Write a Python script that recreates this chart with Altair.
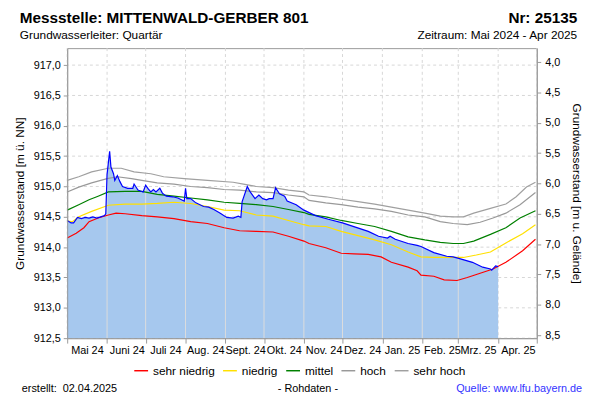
import json
import altair as alt
import numpy as np
import pandas as pd

# ---------------- data ----------------
mess_dates = ["2024-05-01", "2024-05-04", "2024-05-06", "2024-05-09", "2024-05-12", "2024-05-15",
              "2024-05-18", "2024-05-21", "2024-05-24", "2024-05-27", "2024-05-30", "2024-05-31",
              "2024-06-01", "2024-06-03", "2024-06-04", "2024-06-06", "2024-06-07", "2024-06-09",
              "2024-06-11", "2024-06-13", "2024-06-17", "2024-06-21", "2024-06-22", "2024-06-25",
              "2024-06-29", "2024-07-01", "2024-07-03", "2024-07-05", "2024-07-07", "2024-07-09",
              "2024-07-12", "2024-07-14", "2024-07-17", "2024-07-22", "2024-07-26", "2024-07-30",
              "2024-07-31", "2024-08-01", "2024-08-02", "2024-08-05", "2024-08-09", "2024-08-15",
              "2024-08-19", "2024-08-23", "2024-08-28", "2024-09-02", "2024-09-07", "2024-09-11",
              "2024-09-13", "2024-09-14", "2024-09-18", "2024-09-20", "2024-09-24", "2024-09-27",
              "2024-09-30", "2024-10-03", "2024-10-05", "2024-10-08", "2024-10-10", "2024-10-13",
              "2024-10-17", "2024-10-19", "2024-10-26", "2024-11-01", "2024-11-10", "2024-11-20",
              "2024-12-01", "2024-12-11", "2024-12-21", "2024-12-29", "2025-01-05", "2025-01-07",
              "2025-01-11", "2025-01-21", "2025-01-28", "2025-01-31", "2025-02-10", "2025-02-20",
              "2025-02-25", "2025-03-02", "2025-03-12", "2025-03-20", "2025-03-26", "2025-03-27",
              "2025-03-30", "2025-04-01"]
mess_values = [914.44, 914.40, 914.40, 914.49, 914.47, 914.49,
               914.48, 914.50, 914.48, 914.50, 914.52, 914.55,
               915.20, 915.58, 915.32, 915.21, 915.10, 915.18,
               915.08, 915.00, 914.97, 914.97, 915.04, 914.94,
               914.91, 915.02, 914.96, 914.91, 914.95, 914.91,
               914.97, 914.89, 914.84, 914.83, 914.81, 914.77,
               914.76, 914.97, 914.80, 914.80, 914.73, 914.67,
               914.66, 914.62, 914.56, 914.49, 914.48, 914.51,
               914.49, 914.75, 915.00, 914.92, 914.80, 914.86,
               914.80, 914.78, 914.80, 914.80, 914.98, 914.88,
               914.84, 914.76, 914.70, 914.61, 914.52, 914.46,
               914.40, 914.33, 914.26, 914.18, 914.15, 914.18,
               914.13, 914.06, 914.03, 914.01, 913.91, 913.85,
               913.84, 913.81, 913.75, 913.67, 913.64, 913.62,
               913.69, 913.68]

stat_names = ["sehr niedrig", "niedrig", "mittel", "hoch", "sehr hoch"]
stat_colors = ["#FF0000", "#FFE000", "#008000", "#999999", "#A0A0A0"]

sn_dates = ["2024-05-01", "2024-05-08", "2024-05-14", "2024-05-18", "2024-05-25", "2024-06-02",
            "2024-06-08", "2024-06-15", "2024-06-28", "2024-07-10", "2024-07-23", "2024-08-05",
            "2024-08-18", "2024-08-31", "2024-09-12", "2024-09-25", "2024-10-08", "2024-10-20",
            "2024-11-01", "2024-11-05", "2024-11-18", "2024-11-30", "2024-12-10", "2024-12-21",
            "2024-12-31", "2025-01-08", "2025-01-21", "2025-01-28", "2025-01-31", "2025-02-10",
            "2025-02-18", "2025-02-28", "2025-03-08", "2025-03-18", "2025-03-28", "2025-04-07",
            "2025-04-20", "2025-04-30"]
sn_values = [914.15, 914.23, 914.32, 914.42, 914.48, 914.53,
             914.56, 914.55, 914.52, 914.50, 914.47, 914.42,
             914.39, 914.32, 914.27, 914.26, 914.25, 914.18,
             914.10, 914.06, 913.99, 913.90, 913.89, 913.88,
             913.84, 913.75, 913.67, 913.61, 913.54, 913.52,
             913.46, 913.45, 913.50, 913.57, 913.64, 913.75,
             913.94, 914.13]

ni_dates = ["2024-05-01", "2024-05-05", "2024-05-10", "2024-05-20", "2024-06-02", "2024-06-15",
            "2024-06-28", "2024-07-10", "2024-07-23", "2024-08-05", "2024-08-18", "2024-08-31",
            "2024-09-12", "2024-09-25", "2024-10-08", "2024-10-20", "2024-11-01", "2024-11-05",
            "2024-11-18", "2024-11-30", "2024-12-13", "2024-12-26", "2025-01-08", "2025-01-21",
            "2025-01-31", "2025-02-10", "2025-02-25", "2025-03-05", "2025-03-15", "2025-03-26",
            "2025-04-07", "2025-04-20", "2025-04-30"]
ni_values = [914.43, 914.42, 914.50, 914.59, 914.69, 914.71,
             914.71, 914.72, 914.74, 914.72, 914.67, 914.61,
             914.60, 914.53, 914.51, 914.44, 914.37, 914.35,
             914.34, 914.26, 914.19, 914.12, 914.04, 913.92,
             913.84, 913.83, 913.83, 913.83, 913.87, 913.92,
             914.07, 914.22, 914.37]

mi_dates = ["2024-05-01", "2024-05-10", "2024-05-18", "2024-05-25", "2024-06-02", "2024-06-15",
            "2024-06-28", "2024-07-10", "2024-07-23", "2024-08-05", "2024-08-18", "2024-08-31",
            "2024-09-12", "2024-09-25", "2024-10-08", "2024-10-20", "2024-11-01", "2024-11-05",
            "2024-11-18", "2024-11-30", "2024-12-13", "2024-12-26", "2025-01-08", "2025-01-21",
            "2025-02-03", "2025-02-15", "2025-02-25", "2025-03-05", "2025-03-13", "2025-03-26",
            "2025-04-07", "2025-04-18", "2025-04-30"]
mi_values = [914.61, 914.70, 914.78, 914.84, 914.91, 914.92,
             914.92, 914.87, 914.84, 914.81, 914.78, 914.74,
             914.72, 914.70, 914.67, 914.62, 914.57, 914.54,
             914.50, 914.44, 914.39, 914.34, 914.26, 914.17,
             914.12, 914.08, 914.06, 914.06, 914.10, 914.21,
             914.32, 914.48, 914.60]

ho_dates = ["2024-05-01", "2024-05-10", "2024-05-20", "2024-06-01", "2024-06-09", "2024-06-20",
            "2024-06-28", "2024-07-10", "2024-07-23", "2024-08-05", "2024-08-18", "2024-08-31",
            "2024-09-12", "2024-09-25", "2024-10-08", "2024-10-20", "2024-11-01", "2024-11-05",
            "2024-11-18", "2024-11-30", "2024-12-13", "2024-12-26", "2025-01-08", "2025-01-21",
            "2025-02-03", "2025-02-15", "2025-02-25", "2025-03-08", "2025-03-18", "2025-03-28",
            "2025-04-07", "2025-04-18", "2025-04-30"]
ho_values = [914.91, 914.99, 915.06, 915.13, 915.16, 915.13,
             915.10, 915.06, 915.04, 915.00, 914.98, 914.95,
             914.94, 914.91, 914.90, 914.86, 914.83, 914.77,
             914.73, 914.70, 914.66, 914.63, 914.59, 914.53,
             914.50, 914.42, 914.39, 914.37, 914.41, 914.48,
             914.56, 914.70, 914.90]

sh_dates = ["2024-05-01", "2024-05-10", "2024-05-20", "2024-06-02", "2024-06-12", "2024-06-22",
            "2024-07-05", "2024-07-15", "2024-07-31", "2024-08-18", "2024-09-07", "2024-09-15",
            "2024-09-25", "2024-10-08", "2024-10-20", "2024-11-01", "2024-11-05", "2024-11-18",
            "2024-11-30", "2024-12-13", "2024-12-26", "2025-01-08", "2025-01-21", "2025-02-03",
            "2025-02-15", "2025-02-25", "2025-03-05", "2025-03-13", "2025-03-26", "2025-04-07",
            "2025-04-15", "2025-04-23", "2025-04-30"]
sh_values = [915.10, 915.16, 915.24, 915.30, 915.30, 915.24,
             915.21, 915.16, 915.13, 915.10, 915.07, 915.04,
             915.00, 914.98, 914.94, 914.91, 914.86, 914.83,
             914.79, 914.75, 914.71, 914.66, 914.61, 914.56,
             914.51, 914.50, 914.50, 914.56, 914.64, 914.71,
             914.83, 914.99, 915.07]

month_labels = ["Mai 24", "Juni 24", "Juli 24", "Aug. 24", "Sept. 24", "Okt. 24",
                "Nov. 24", "Dez. 24", "Jan. 25", "Feb. 25", "Mrz. 25", "Apr. 25"]
month_starts = ["2024-05-01", "2024-06-01", "2024-07-01", "2024-08-01", "2024-09-01",
                "2024-10-01", "2024-11-01", "2024-12-01", "2025-01-01", "2025-02-01",
                "2025-03-01", "2025-04-01", "2025-05-01"]
left_ticks = [912.5, 913.0, 913.5, 914.0, 914.5, 915.0, 915.5, 916.0, 916.5, 917.0]
right_ticks = [4.0, 4.5, 5.0, 5.5, 6.0, 6.5, 7.0, 7.5, 8.0, 8.5]
ground_level = 921.05  # Gelaendehoehe [m ü. NN]
y_min, y_max = 912.5, 917.28

title_left = "Messstelle: MITTENWALD-GERBER 801"
title_right = "Nr: 25135"
sub_left = "Grundwasserleiter: Quartär"
sub_right = "Zeitraum: Mai 2024 - Apr 2025"
foot_left = "erstellt:\u00a0\u00a002.04.2025"
foot_mid = "- Rohdaten -"
foot_right = "Quelle: www.lfu.bayern.de"
y_title_left = "Grundwasserstand [m ü. NN]"
y_title_right = "Grundwasserstand [m u. Gelände]"

# ---------------- tables ----------------
def loc(d):
    return d + "T00:00:00"

mess_df = pd.DataFrame({"date": [loc(d) for d in mess_dates], "value": mess_values})
stat_sets = [(sn_dates, sn_values), (ni_dates, ni_values), (mi_dates, mi_values),
             (ho_dates, ho_values), (sh_dates, sh_values)]
stat_df = pd.concat([
    pd.DataFrame({"date": [loc(d) for d in ds], "value": vs, "serie": name})
    for name, (ds, vs) in zip(stat_names, stat_sets)
])
hgrid_df = pd.DataFrame({"v": left_ticks})
vgrid_df = pd.DataFrame({"date": [loc(d) for d in month_starts]})

# light month lines over the filled area (up to the measured level)
mess_num = pd.to_datetime(pd.Series(mess_dates)).astype("int64").to_numpy()
inner = [d for d in month_starts if mess_dates[0] < d < mess_dates[-1]]
inner_num = pd.to_datetime(pd.Series(inner)).astype("int64").to_numpy()
over_df = pd.DataFrame({"date": [loc(d) for d in inner],
                        "top": np.interp(inner_num, mess_num, mess_values)})

W, H = 476, 294
x_scale = alt.Scale(domain=[alt.DateTime(year=2024, month=5, date=1),
                            alt.DateTime(year=2025, month=5, date=1)], nice=False)
y_scale = alt.Scale(domain=[y_min, y_max], nice=False, zero=False)

label_expr = ("(" + json.dumps(month_labels, ensure_ascii=False) +
              ")[(year(datum.value)-2024)*12 + month(datum.value) - 4] || ''")
x_axis = alt.Axis(values=[alt.DateTime(year=int(d[:4]), month=int(d[5:7]), date=1) for d in month_starts],
                  title=None, grid=False, domain=True, domainColor="#999999", ticks=True,
                  tickColor="#999999", tickSize=5, labelExpr=label_expr, labelAlign="center",
                  labelOffset=20, labelPadding=2, labelFontSize=11, labelColor="#000000",
                  labelOverlap=False, labelFlush=False, labelBound=False, zindex=1)
y_axis = alt.Axis(values=left_ticks, title=y_title_left, grid=False, domain=True,
                  domainColor="#999999", tickColor="#999999", tickSize=4, labelPadding=3,
                  labelFontSize=11, labelColor="#000000", labelOverlap=False,
                  labelFlush=False, labelBound=False,
                  labelExpr="replace(format(datum.value, '.1f'), '.', ',')",
                  titleFontSize=12, titleFontWeight="normal", titleColor="#000000",
                  titleAngle=-90, titleX=-48, titleY=H / 2, titleBaseline="middle",
                  titleAlign="center", zindex=1)

X = alt.X("date:T", scale=x_scale, axis=x_axis)


def Y(field):
    return alt.Y(field, scale=y_scale, axis=y_axis)


hgrid = alt.Chart(hgrid_df).mark_rule(color="#d6d6d6", strokeDash=[3, 3], strokeWidth=1).encode(
    y=Y("v:Q"))
vgrid = alt.Chart(vgrid_df).mark_rule(color="#d6d6d6", strokeDash=[3, 3], strokeWidth=1).encode(
    x=X)
area = alt.Chart(mess_df).mark_area(color="#A6C8EE", opacity=1).encode(
    x=X, y=Y("value:Q"), y2=alt.datum(y_min))
over = alt.Chart(over_df).mark_rule(color="#DCDCDC", strokeWidth=1).encode(
    x=X, y=Y("top:Q"), y2=alt.datum(y_min))
stats = alt.Chart(stat_df).mark_line(strokeWidth=1.2).encode(
    x=X, y=Y("value:Q"),
    color=alt.Color("serie:N", scale=alt.Scale(domain=stat_names, range=stat_colors),
                    sort=stat_names,
                    legend=alt.Legend(title=None, orient="none", legendX=67, legendY=319,
                                      direction="horizontal", symbolType="stroke",
                                      symbolSize=196, symbolStrokeWidth=1.5, labelFontSize=12,
                                      labelColor="#000000", labelOffset=4, columnPadding=5)),
    detail="serie:N")
blue = alt.Chart(mess_df).mark_line(color="#0000FF", strokeWidth=1.2).encode(
    x=X, y=Y("value:Q"))

left = alt.layer(hgrid, vgrid, area, over, stats, blue)

right = alt.Chart(mess_df).transform_calculate(depth=f"{ground_level} - datum.value").mark_line(
    opacity=0).encode(
    x=X,
    y=alt.Y("depth:Q",
            scale=alt.Scale(domain=[ground_level - y_max, ground_level - y_min], reverse=True,
                            nice=False, zero=False),
            axis=alt.Axis(orient="right", values=right_ticks, title=y_title_right, grid=False,
                          domain=True, domainColor="#999999", tickColor="#999999", tickSize=4,
                          labelPadding=4, labelFontSize=11, labelColor="#000000",
                          labelOverlap=False, labelFlush=False, labelBound=False,
                          labelExpr="replace(format(datum.value, '.1f'), '.', ',')",
                          titleFontSize=12, titleFontWeight="normal", titleColor="#000000",
                          titleAngle=90, titleX=40, titleY=H / 2, titleBaseline="middle",
                          titleAlign="center", zindex=1)))


def txt(s, x, y, size, align="left", weight="normal", color="#000000"):
    return alt.Chart(pd.DataFrame({"t": [s]})).mark_text(
        align=align, baseline="alphabetic", fontSize=size, fontWeight=weight, color=color).encode(
        text="t:N", x=alt.value(x), y=alt.value(y))


texts = [
    txt(title_left, -48, -25, 15.5, weight="bold"),
    txt(title_right, 517, -25, 15.5, align="right", weight="bold"),
    txt(sub_left, -48, -9, 12),
    txt(sub_right, 517, -9, 12, align="right"),
    txt(foot_left, -46, 349, 11),
    txt(foot_mid, 244, 349, 11, align="center"),
    txt(foot_right, 522, 349, 11, align="right", color="#3333FF"),
]

chart = alt.layer(left, right, *texts).resolve_scale(y="independent").properties(
    width=W, height=H,
    padding={"left": 60, "top": 38, "right": 56, "bottom": 60},
    autosize=alt.AutoSizeParams(type="none"),
).configure(font="Liberation Sans").configure_axis(labelOverlap=False).configure_view(
    stroke="#999999", strokeWidth=1)

chart.save("out.html", embed_options={"renderer": "svg", "actions": False})
